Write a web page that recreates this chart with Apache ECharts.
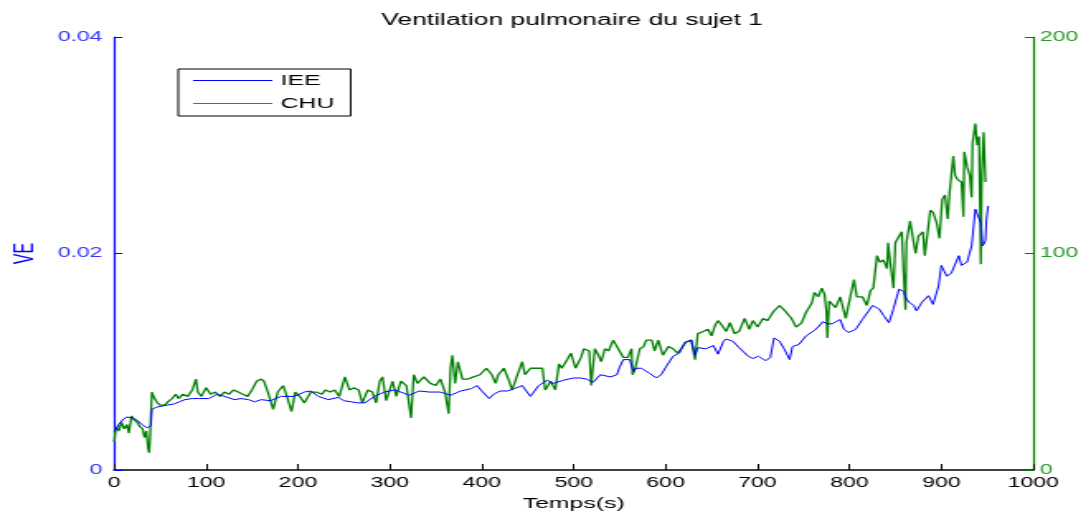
<!DOCTYPE html>
<html>
<head>
<meta charset="utf-8">
<script src="https://cdn.jsdelivr.net/npm/echarts@6/dist/echarts.min.js"></script>
<style>
html, body { margin: 0; padding: 0; background: #fff; overflow: hidden; }
/* the original figure is stretched sideways, so draw narrow and widen it */
#main { width: 658px; height: 516px; transform: scaleX(1.6505); transform-origin: 0 0; }
</style>
</head>
<body>
<div id="main"></div>
<script>
// IEE, VE (left axis)
var tIee = [0,5,10,14,20,25,30,36,40,41,46,52,58,65,71,77,85,92,103,112,120,131,138,146,153,160,170,182,196,207,214,222,233,244,250,258,265,273,283,294,305,312,321,332,343,355,366,377,388,395,400,408,413,420,428,435,444,453,462,471,478,489,500,507,514,521,529,540,547,550,554,557,561,565,568,574,583,590,595,601,608,615,621,628,632,635,644,652,657,663,666,673,680,690,695,701,709,714,718,724,729,735,738,745,753,762,767,771,776,781,790,794,799,807,814,821,825,832,837,843,848,854,859,862,865,870,873,879,886,891,897,900,906,911,919,922,928,933,937,940,943,945,948,949,951];
var iee = [0.0035,0.0042,0.0047,0.0049,0.0048,0.0046,0.0042,0.0039,0.0041,0.0056,0.0058,0.0059,0.0060,0.0061,0.0063,0.0065,0.0066,0.0066,0.0066,0.0070,0.0068,0.0065,0.0066,0.0065,0.0063,0.0065,0.0064,0.0068,0.0068,0.0072,0.0073,0.0068,0.0065,0.0067,0.0064,0.0063,0.0062,0.0062,0.0068,0.0072,0.0074,0.0072,0.0069,0.0073,0.0072,0.0072,0.0069,0.0073,0.0075,0.0078,0.0073,0.0066,0.0070,0.0073,0.0073,0.0075,0.0078,0.0068,0.0078,0.0083,0.0080,0.0083,0.0085,0.0085,0.0084,0.0081,0.0088,0.0086,0.0088,0.0095,0.0102,0.0103,0.0102,0.0091,0.0094,0.0094,0.0089,0.0085,0.0088,0.0096,0.0105,0.0108,0.0118,0.0120,0.0106,0.0113,0.0112,0.0115,0.0107,0.0119,0.0121,0.0119,0.0113,0.0105,0.0103,0.0105,0.0101,0.0104,0.0122,0.0119,0.0112,0.0102,0.0114,0.0116,0.0124,0.0129,0.0133,0.0137,0.0135,0.0135,0.0139,0.0130,0.0127,0.0130,0.0139,0.0147,0.0152,0.0149,0.0143,0.0136,0.0149,0.0167,0.0165,0.0158,0.0155,0.0152,0.0147,0.0155,0.0161,0.0153,0.0170,0.0189,0.0179,0.0182,0.0198,0.0189,0.0192,0.0207,0.0241,0.0241,0.0228,0.0207,0.0212,0.0231,0.0244];

// CHU (right axis)
var tChu = [0,2,5,8,11,14,16,19,22,25,28,31,33,35,37,38,39,41,44,47,50,55,60,63,67,70,75,80,85,89,91,95,100,105,110,115,120,125,130,135,140,145,150,155,160,163,168,173,178,184,188,193,197,202,207,214,220,226,230,235,240,245,247,251,256,261,266,270,276,281,285,289,292,296,303,307,312,318,321,323,326,330,337,344,350,355,360,364,366,368,371,374,379,385,391,398,405,411,415,418,424,429,433,438,444,447,453,460,466,469,475,480,484,487,493,497,502,508,511,517,519,523,527,530,534,538,543,547,550,554,559,563,564,567,572,576,579,585,588,592,597,603,608,613,617,622,628,632,635,641,646,650,654,657,661,666,670,675,680,686,691,695,700,706,711,717,724,731,737,742,748,753,759,762,766,770,773,775,776,778,780,785,790,796,801,805,808,814,819,823,826,830,833,837,841,842,845,848,850,854,857,859,861,862,866,870,872,875,880,882,888,891,895,898,901,904,907,909,913,915,918,922,924,925,928,931,933,934,937,939,941,943,944,946,948];
var chu = [13,20,18,22,19,21,17,25,23,22,20,19,15,18,10,8,14,36,33,31,30,30,32,33,35,33,35,34,37,42,36,34,38,35,36,34,36,35,37,36,35,34,37,41,42,41,35,28,36,39,34,27,36,34,31,36,36,35,37,36,37,34,37,43,37,38,37,31,37,36,31,41,43,32,41,34,41,39,30,24,44,40,43,40,39,42,36,26,47,53,40,50,42,42,43,44,47,44,40,44,47,42,37,43,50,44,47,47,47,37,41,37,49,47,51,54,47,52,56,55,39,56,53,50,56,55,60,57,57,52,52,56,44,47,56,57,60,60,55,60,53,57,56,54,56,59,60,51,63,64,65,62,67,69,67,64,68,63,64,70,65,69,66,70,69,73,76,73,70,66,68,73,77,82,80,84,81,73,61,78,78,75,80,70,80,88,80,80,76,83,84,99,96,97,93,105,94,84,105,108,110,91,74,105,115,105,100,108,110,99,120,119,114,107,125,127,116,128,145,136,134,133,117,147,140,136,126,151,160,150,154,95,136,156,133];

var xTicks = { min: 0, max: 1000, step: 100 };
var veTicks = { min: 0, max: 0.04, step: 0.02 };
var chuTicks = { min: 0, max: 200, step: 100 };

function pairs(t, v) {
    var out = [];
    for (var i = 0; i < t.length; i++) out.push([t[i], v[i]]);
    return out;
}

var font = 'Liberation Sans, Arial, sans-serif';

var option = {
    animation: false,
    backgroundColor: '#fff',
    title: {
        text: 'Ventilation pulmonaire du sujet 1',
        left: 226,
        top: 8,
        textStyle: { fontFamily: font, fontSize: 16, fontWeight: 'normal', color: '#000' }
    },
    legend: {
        orient: 'vertical',
        left: 108,
        top: 69,
        padding: [4, 10, 5, 9],
        itemGap: 8,
        itemWidth: 48,
        itemHeight: 1,
        icon: 'rect',
        borderColor: '#000',
        borderWidth: 1,
        backgroundColor: '#fff',
        textStyle: { fontFamily: font, fontSize: 15, color: '#000' },
        data: [
            { name: 'IEE', itemStyle: { color: '#0000ff', borderWidth: 0 } },
            { name: 'CHU', itemStyle: { color: '#2e8b2e', borderWidth: 0 } }
        ]
    },
    grid: { left: 68, right: 32, top: 37, bottom: 45 },
    xAxis: {
        type: 'value',
        min: xTicks.min,
        max: xTicks.max,
        interval: xTicks.step,
        name: 'Temps(s)',
        nameLocation: 'middle',
        nameGap: 26,
        nameTextStyle: { fontFamily: font, fontSize: 15, color: '#000' },
        axisLine: { lineStyle: { color: '#000', width: 1.5 } },
        axisTick: { inside: true, length: 6, lineStyle: { color: '#000' } },
        axisLabel: {
            fontFamily: font, fontSize: 14, color: '#000', margin: 6,
            formatter: function (v) { return String(v); }
        },
        splitLine: { show: false }
    },
    yAxis: [
        {
            type: 'value',
            position: 'left',
            min: veTicks.min,
            max: veTicks.max,
            interval: veTicks.step,
            name: 'VE',
            nameLocation: 'middle',
            nameGap: 42,
            nameTextStyle: { fontFamily: font, fontSize: 16, color: '#0000ff' },
            axisLine: { show: true, lineStyle: { color: '#0000ff', width: 1.2 } },
            axisTick: { show: true, inside: true, length: 5, lineStyle: { color: '#0000ff' } },
            axisLabel: { fontFamily: font, fontSize: 14, color: '#3535ff', margin: 7 },
            splitLine: { show: false }
        },
        {
            type: 'value',
            position: 'right',
            min: chuTicks.min,
            max: chuTicks.max,
            interval: chuTicks.step,
            axisLine: { show: true, lineStyle: { color: '#008000', width: 1.2 } },
            axisTick: { show: true, inside: true, length: 5, lineStyle: { color: '#008000' } },
            axisLabel: { fontFamily: font, fontSize: 14, color: '#2a9a2a', margin: 4 },
            splitLine: { show: false }
        }
    ],
    series: [
        {
            name: 'IEE',
            type: 'line',
            yAxisIndex: 0,
            showSymbol: false,
            color: '#0000ff',
            lineStyle: { width: 1, color: '#0000ff' },
            data: pairs(tIee, iee),
            z: 3
        },
        {
            name: 'CHU',
            type: 'line',
            yAxisIndex: 1,
            showSymbol: false,
            color: '#008000',
            lineStyle: { width: 1.3, color: '#008000' },
            data: pairs(tChu, chu),
            z: 2
        }
    ]
};

var myChart = echarts.init(document.getElementById('main'));
myChart.setOption(option);
</script>
</body>
</html>
